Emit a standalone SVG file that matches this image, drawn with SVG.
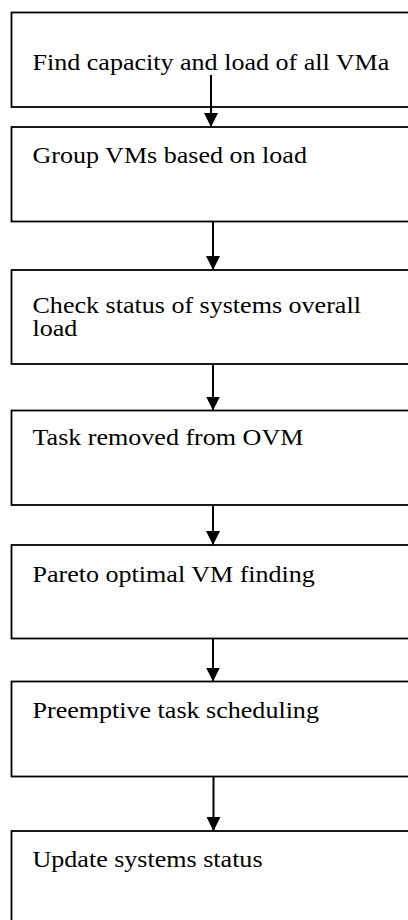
<svg xmlns="http://www.w3.org/2000/svg" width="408" height="920" viewBox="0 0 408 920">
  <defs>
    <style>
      .box { fill: #fff; stroke: #000; stroke-width: 1.8; }
      .lbl { font-family: "Liberation Serif", "Times New Roman", serif; font-size: 23px; fill: #000; }
      .flow { stroke: #000; stroke-width: 2; fill: none; marker-end: url(#head); }
    </style>
    <marker id="head" markerUnits="userSpaceOnUse" markerWidth="14" markerHeight="14" refX="14" refY="7" orient="auto">
      <path d="M0,0 L14,7 L0,14 z" fill="#000"/>
    </marker>
  </defs>
  <rect width="408" height="920" fill="#fff"/>

  <!-- labels use a slightly widened serif face -->
  <g id="step-find-capacity">
    <rect class="box" x="11.5" y="12.5" width="420" height="94.5"/>
    <text class="lbl" transform="translate(32.5,69.5) scale(1.133,1)">Find capacity and load of all VMa</text>
  </g>
  <g id="step-group-vms">
    <rect class="box" x="11.5" y="127" width="420" height="94.5"/>
    <text class="lbl" transform="translate(32.5,163) scale(1.133,1)">Group VMs based on load</text>
  </g>
  <g id="step-check-status">
    <rect class="box" x="11.5" y="270" width="420" height="94"/>
    <text class="lbl" transform="translate(32.5,313) scale(1.133,1)">Check status of systems overall</text>
    <text class="lbl" transform="translate(32.5,336) scale(1.133,1)">load</text>
  </g>
  <g id="step-task-removed">
    <rect class="box" x="11.5" y="410.5" width="420" height="94.5"/>
    <text class="lbl" transform="translate(32.5,445) scale(1.133,1)">Task removed from OVM</text>
  </g>
  <g id="step-pareto">
    <rect class="box" x="11.5" y="545" width="420" height="93.5"/>
    <text class="lbl" transform="translate(32.5,581.5) scale(1.133,1)">Pareto optimal VM finding</text>
  </g>
  <g id="step-preemptive">
    <rect class="box" x="11.5" y="681.5" width="420" height="95"/>
    <text class="lbl" transform="translate(32.5,718) scale(1.133,1)">Preemptive task scheduling</text>
  </g>
  <g id="step-update">
    <rect class="box" x="11.5" y="831" width="420" height="120"/>
    <text class="lbl" transform="translate(32.5,867) scale(1.133,1)">Update systems status</text>
  </g>

  <g id="connectors">
    <line class="flow" x1="211" y1="75" x2="211" y2="127"/>
    <line class="flow" x1="213" y1="222" x2="213" y2="270"/>
    <line class="flow" x1="213" y1="364" x2="213" y2="410.5"/>
    <line class="flow" x1="213" y1="505" x2="213" y2="545"/>
    <line class="flow" x1="213" y1="638.5" x2="213" y2="681.5"/>
    <line class="flow" x1="213.5" y1="776.5" x2="213.5" y2="831"/>
  </g>
</svg>
